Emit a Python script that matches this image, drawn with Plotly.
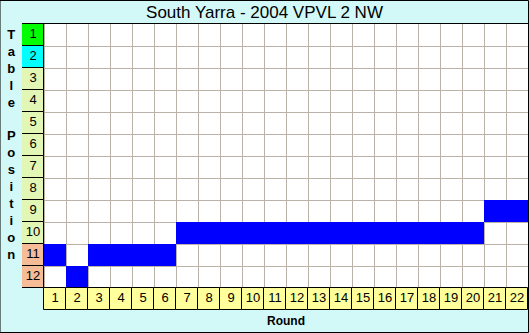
import plotly.graph_objects as go

title = "South Yarra - 2004 VPVL 2 NW"
rounds = list(range(1, 23))
positions = [11, 12, 11, 11, 11, 11, 10, 10, 10, 10, 10, 10, 10, 10, 10, 10, 10, 10, 10, 10, 9, 9]
table_positions = list(range(1, 13))
pos_colors = ["#00ff00", "#00ffff"] + ["#e2f6b6"] * 8 + ["#f6bc98"] * 2
round_color = "#ffff9c"
bar_color = "#0000ff"
bg = "#d2f8f8"
grid = "#bab2a6"

fig = go.Figure()

# position bars
fig.add_trace(go.Bar(
    x=rounds, y=[1] * len(rounds), base=[p - 0.5 for p in positions], width=1,
    marker=dict(color=bar_color, line=dict(width=0)), hoverinfo="skip", showlegend=False))

# corner cell (background)
fig.add_trace(go.Bar(x=[0], y=[1], base=[12.5], width=1,
                     marker=dict(color=bg, line=dict(width=0)), hoverinfo="skip", showlegend=False))

# table position label cells
fig.add_trace(go.Bar(
    x=[0] * len(table_positions), y=[1] * len(table_positions),
    base=[p - 0.5 for p in table_positions], width=1,
    marker=dict(color=pos_colors, line=dict(color="black", width=1)),
    hoverinfo="skip", showlegend=False))
fig.add_trace(go.Scatter(
    x=[0] * len(table_positions), y=table_positions, mode="text",
    text=[str(p) for p in table_positions],
    textfont=dict(family="Liberation Sans, Arial", size=13, color="black"),
    hoverinfo="skip", showlegend=False))

# round label cells
fig.add_trace(go.Bar(
    x=rounds, y=[1] * len(rounds), base=[12.5] * len(rounds), width=1,
    marker=dict(color=round_color, line=dict(color="black", width=1)),
    hoverinfo="skip", showlegend=False))
fig.add_trace(go.Scatter(
    x=rounds, y=[13] * len(rounds), mode="text",
    text=[str(r) for r in rounds],
    textfont=dict(family="Liberation Sans, Arial", size=13, color="black"),
    hoverinfo="skip", showlegend=False))

fig.update_layout(
    width=529, height=333,
    margin=dict(l=22, r=1, t=24, b=23),
    paper_bgcolor=bg, plot_bgcolor="white",
    barmode="overlay", bargap=0,
    title=dict(text=title, x=0.5, xanchor="center", y=1 - 12.5 / 333, yanchor="middle",
               font=dict(family="Liberation Sans, Arial", size=17, color="black")),
    xaxis=dict(range=[-0.5, 22.5], tickvals=[r + 0.5 for r in range(0, 22)],
               showticklabels=False, ticks="", showgrid=True, gridcolor=grid, gridwidth=1,
               zeroline=False, side="top", showline=True, linecolor="black", linewidth=1,
               fixedrange=True),
    yaxis=dict(range=[13.5, 0.5], tickvals=[p + 0.5 for p in range(0, 13)],
               showticklabels=False, ticks="", showgrid=True, gridcolor=grid, gridwidth=1,
               zeroline=False, showline=False, fixedrange=True),
    annotations=[
        dict(text="<br>".join(list("Table") + [" "] + list("Position")),
             xref="paper", yref="paper", x=-11 / 506, y=1 - (144 - 24) / 286,
             xanchor="center", yanchor="middle", showarrow=False, align="center",
             font=dict(family="Liberation Sans, Arial", size=13, color="black", weight="bold")),
        dict(text="<b>Round</b>", xref="paper", yref="paper",
             x=(286 - 22) / 506, y=-(321 - 310) / 286, xanchor="center", yanchor="middle",
             showarrow=False, font=dict(family="Liberation Sans, Arial", size=12, color="black")),
    ],
    shapes=[dict(type="rect", xref="paper", yref="paper",
                 x0=-22 / 506, x1=1 + 0.5 / 506, y0=-23 / 286 + 0.5 / 286, y1=1 + 23.5 / 286,
                 line=dict(color="black", width=1), fillcolor="rgba(0,0,0,0)", layer="above")],
)

fig.write_html("out.html")
